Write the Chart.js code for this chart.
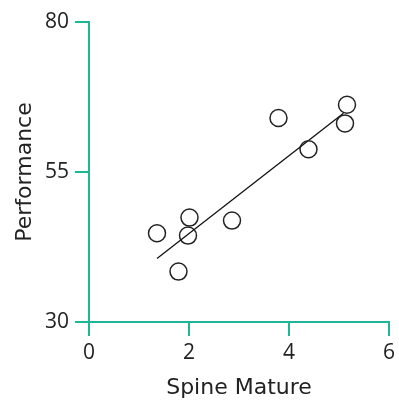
<!DOCTYPE html>
<html>
<head>
<meta charset="utf-8">
<script src="https://cdn.jsdelivr.net/npm/chart.js@4/dist/chart.umd.min.js"></script>
<style>
html,body{margin:0;padding:0;background:#fff;}
#wrap{width:399px;height:401px;position:relative;}
</style>
</head>
<body>
<div id="wrap"><canvas id="c"></canvas></div>
<script>
const spineMature = [1.36, 2.01, 1.98, 1.79, 2.86, 3.79, 4.39, 5.16, 5.12];
const performance = [44.8, 47.4, 44.4, 38.4, 46.9, 64.0, 58.8, 66.2, 63.1];
const fitX = [1.36, 5.09];
const fitY = [40.6, 64.8];
const xTicks = [0, 2, 4, 6];
const yTicks = [30, 55, 80];
const xTitle = 'Spine Mature';
const yTitle = 'Performance';

const teal = '#1fb597';
const tickFont = {family: "'Open Sans', sans-serif", size: 21};
const titleFont = {family: "'DejaVu Sans', sans-serif", size: 22};

new Chart(document.getElementById('c'), {
  type: 'scatter',
  data: {
    datasets: [
      {
        data: spineMature.map((x, i) => ({x: x, y: performance[i]})),
        pointStyle: 'circle',
        pointRadius: 8.5,
        pointHoverRadius: 8.5,
        backgroundColor: 'rgba(255,255,255,0)',
        borderColor: '#222',
        borderWidth: 1.5,
        order: 1
      },
      {
        type: 'line',
        data: fitX.map((x, i) => ({x: x, y: fitY[i]})),
        borderColor: '#111',
        borderWidth: 1.3,
        pointRadius: 0,
        fill: false,
        order: 2
      }
    ]
  },
  options: {
    responsive: true,
    maintainAspectRatio: false,
    animation: false,
    layout: {padding: {top: 22, right: 8, bottom: 0, left: 0}},
    plugins: {legend: {display: false}, tooltip: {enabled: false}},
    scales: {
      x: {
        type: 'linear',
        min: 0, max: 6,
        afterBuildTicks: s => { s.ticks = xTicks.map(v => ({value: v})); },
        afterFit: s => { s.height = 79; },
        border: {color: teal, width: 2},
        grid: {drawOnChartArea: false, drawTicks: true, tickLength: 14, color: teal, lineWidth: 2},
        ticks: {color: '#222', font: tickFont, padding: 4, maxRotation: 0},
        title: {display: true, text: xTitle, color: '#222', font: titleFont, padding: {top: 0, bottom: 0}}
      },
      y: {
        type: 'linear',
        min: 30, max: 80,
        afterBuildTicks: s => { s.ticks = yTicks.map(v => ({value: v})); },
        afterFit: s => { s.width = 89; },
        border: {color: teal, width: 2},
        grid: {drawOnChartArea: false, drawTicks: true, tickLength: 14, color: teal, lineWidth: 2},
        ticks: {color: '#222', font: tickFont, padding: 6},
        title: {display: true, text: yTitle, color: '#222', font: titleFont, padding: {top: 12, bottom: 8}}
      }
    }
  }
});
</script>
</body>
</html>
